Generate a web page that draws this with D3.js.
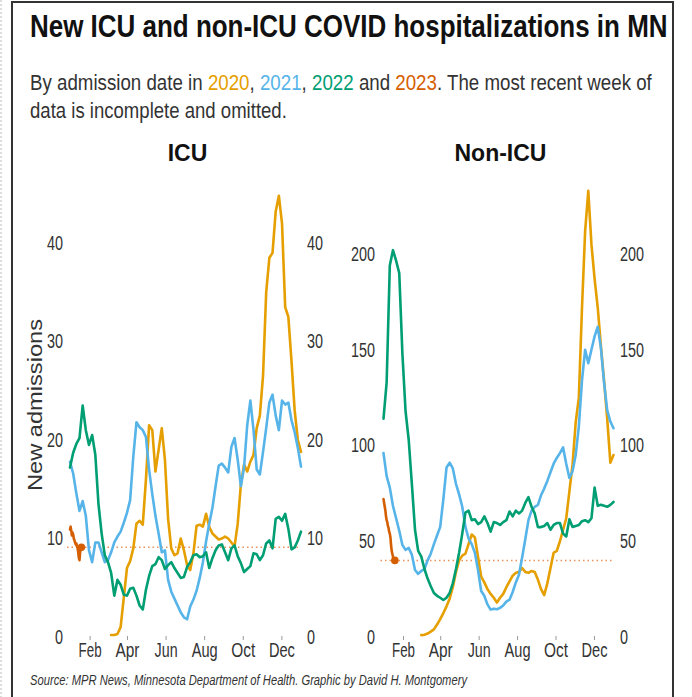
<!DOCTYPE html>
<html>
<head>
<meta charset="utf-8">
<script src="https://cdn.jsdelivr.net/npm/d3@7"></script>
<style>
  body { margin: 0; background: #fff; }
  text { font-family: "Liberation Sans Narrow", "Liberation Sans", Arial, sans-serif; }
</style>
</head>
<body>
<div id="chart"></div>
<script>
// series are sampled every 5 days from Jan 1 (2023 is daily)
var step = 5;
var years = ["2020", "2021", "2022", "2023"];
var yearColors = ["#E69F00", "#56B4E9", "#009E73", "#D55E00"];

var monthDays = [31, 90, 151, 212, 273, 334];
var monthLabels = ["Feb", "Apr", "Jun", "Aug", "Oct", "Dec"];
var monthWidths = [23, 24, 23, 26, 24, 26];

var icuTicks = [0, 10, 20, 30, 40];
var nonIcuTicks = [0, 50, 100, 150, 200];

// ICU new admissions
var icu2020Start = 65;
var icu2020 = [0.2, 0.2, 0.3, 1.0, 4.0, 7.0, 7.7, 9.0, 11.5, 11.8, 11.4, 16.0, 21.5, 21.0, 16.8, 19.0,
  21.2, 18.0, 12.0, 9.0, 8.3, 8.5, 10.0, 8.8, 7.3, 6.8, 8.5, 11.3, 11.4, 11.2, 12.5, 11.2, 10.5, 10.2,
  9.9, 10.0, 10.2, 10.0, 9.6, 9.2, 11.5, 15.5, 17.5, 16.8, 17.8, 18.5, 21.2, 22.5, 26.5, 35.0, 38.5,
  39.0, 43.2, 44.8, 42.0, 33.5, 32.5, 28.0, 23.0, 20.0, 18.8];
var icu2021 = [17.8, 16.6, 14.6, 12.8, 13.8, 12.3, 8.8, 7.6, 9.6, 9.6, 8.6, 7.6, 7.8, 8.6, 9.6, 10.2,
  10.7, 11.6, 12.6, 13.9, 18.3, 21.8, 21.3, 21.0, 20.3, 17.0, 14.5, 12.3, 10.5, 8.6, 8.8, 5.8, 4.6, 3.9,
  3.2, 2.5, 2.0, 1.8, 3.1, 3.8, 4.7, 6.0, 7.6, 9.7, 11.5, 13.1, 15.3, 17.4, 17.6, 17.2, 16.7, 19.3,
  20.2, 18.0, 15.3, 17.2, 21.5, 24.0, 21.0, 17.0, 16.5, 18.8, 21.2, 23.8, 24.6, 22.5, 21.0, 24.0, 23.6,
  23.8, 22.0, 20.8, 19.2, 17.3];
var icu2022 = [17.2, 18.7, 19.6, 20.2, 23.5, 21.0, 19.5, 20.5, 18.5, 13.5, 10.5, 8.3, 7.6, 6.5, 4.2,
  5.8, 5.3, 4.3, 4.2, 4.9, 5.0, 4.2, 3.2, 2.8, 4.8, 6.2, 7.2, 7.4, 8.1, 7.8, 6.9, 7.3, 7.6, 7.0, 6.5,
  6.0, 6.1, 7.1, 7.6, 8.3, 8.4, 8.1, 8.2, 8.6, 7.0, 8.0, 8.8, 9.3, 9.4, 8.6, 7.8, 9.0, 9.3, 8.2, 7.5,
  6.6, 6.9, 7.2, 8.5, 8.4, 7.8, 8.3, 9.5, 9.8, 9.0, 12.0, 12.2, 11.8, 12.5, 11.0, 8.9, 9.1, 9.8, 10.7];
var icu2023 = [10.9, 11.2, 10.8, 10.3, 10.6, 10.4, 10.0, 9.8, 9.6, 9.4, 9.5, 9.2, 9.0, 8.6, 8.0, 7.8,
  8.6, 9.3, 9.1];

// Non-ICU new admissions
var nonIcu2020Start = 60;
var nonIcu2020 = [1, 1.2, 1.8, 2.8, 4, 6.5, 9.3, 12.5, 16, 20, 26, 34, 40, 42.5, 43.5, 48.5, 53.5, 52,
  41.8, 31.5, 28.5, 25, 22.5, 20.5, 18, 20.5, 22.5, 26, 29, 32, 33.5, 34, 36, 34, 33.5, 34.5, 34, 30,
  25, 21.9, 28, 36, 44, 45, 50, 56, 62, 76, 90, 112, 125, 172, 212, 233, 205, 187, 172, 152, 134, 114,
  91, 95];
var nonIcu2021 = [96, 84, 78, 68.5, 62, 55.5, 48, 45.5, 46.5, 43, 35, 33, 34.5, 35.5, 40, 43.5, 48.5, 53,
  57.5, 72, 88.5, 91, 88, 80, 74.5, 68, 57.5, 51.5, 48.5, 44, 35, 24, 21.5, 17, 14.3, 14.8, 14.5, 15.2,
  16.5, 18.5, 19.5, 23.5, 28.5, 32.5, 41.5, 51, 61, 66, 68, 69, 74, 77.5, 81.5, 86, 90.5, 93.5, 96, 99,
  90.5, 83, 86.5, 95, 110, 134, 150, 143, 150, 157, 162, 151, 133, 118.5, 112.5, 109];
var nonIcu2022 = [114, 133, 194, 202, 196.5, 190, 148, 118, 103, 80, 56, 45, 42, 35.5, 30.5, 26.5, 23,
  21.5, 20.5, 19.3, 20.5, 23, 28, 35.5, 44, 54, 65, 66, 61, 61.5, 59, 60, 63, 59.5, 55, 60, 59.5, 58.5,
  60, 61, 65.5, 63, 66, 64.5, 66, 70, 73, 68, 64.5, 57.4, 57.4, 58, 59.5, 56, 58.5, 59.5, 59.5, 54,
  52.5, 61.5, 57.5, 58, 58.5, 60.5, 61, 60, 62, 78, 68.5, 69, 68.5, 68, 69, 70.5];
var nonIcu2023 = [72, 70, 68, 66, 63, 61, 60, 58, 57, 55, 54, 52, 48, 45, 43.5, 42, 41, 40.3, 40];

// subtitle pieces, coloured by year where given
var subtitleParts = [
  ["By admission date in ", null], ["2020", 0], [", ", null], ["2021", 1], [", ", null],
  ["2022", 2], [" and ", null], ["2023", 3], [". The most recent week of", null]
];

function series(values, start, stride) {
  return values.map(function(v, i) { return {day: start + i * stride, value: v}; });
}

var panels = [
  {title: "ICU", x0: 70, x1: 301, yMax: 40, yTop: 243, ticks: icuTicks, leftLab: 63, rightLab: 307,
   lines: [series(icu2020, icu2020Start, step), series(icu2021, 0, step),
           series(icu2022, 0, step), series(icu2023, 0, 1)]},
  {title: "Non-ICU", x0: 383.5, x1: 613.5, yMax: 200, yTop: 254, ticks: nonIcuTicks, leftLab: 375, rightLab: 620,
   lines: [series(nonIcu2020, nonIcu2020Start, step), series(nonIcu2021, 0, step),
           series(nonIcu2022, 0, step), series(nonIcu2023, 0, 1)]}
];

var width = 692, height = 697, baseY = 637;
var labelFont = "'Liberation Sans Narrow', 'Liberation Sans', Arial, sans-serif";

var svg = d3.select("#chart").append("svg")
    .attr("width", width)
    .attr("height", height);

svg.append("rect").attr("width", width).attr("height", height).attr("fill", "#fff");

// frame of the screenshot
svg.append("line")
    .attr("x1", 1).attr("x2", 1).attr("y1", 0).attr("y2", height)
    .style("stroke", "#bbb").style("stroke-dasharray", "2,2");
svg.append("rect")
    .attr("x", 12).attr("y", 2).attr("width", 661).attr("height", height + 10)
    .attr("fill", "none").style("stroke", "#333").style("stroke-width", 2);

// title: condensed by a horizontal scale so it fits 638px
var titleG = svg.append("g");
var title = titleG.append("text")
    .style("font-size", "32px").style("font-weight", "bold").style("fill", "#111")
    .text("New ICU and non-ICU COVID hospitalizations in MN");
var tw = title.node().getComputedTextLength();
titleG.attr("transform", "translate(30,37) scale(" + Math.min(1, 638 / tw) + ",1)");

// subtitle line 1, one text per piece
var subG = svg.append("g");
var cx = 0;
subtitleParts.forEach(function(part) {
  var t = subG.append("text")
      .attr("x", cx).attr("y", 0)
      .style("font-size", "22px")
      .style("fill", part[1] === null ? "#333" : yearColors[part[1]])
      .style("white-space", "pre")
      .attr("xml:space", "preserve")
      .text(part[0]);
  cx += t.node().getComputedTextLength();
});
subG.attr("transform", "translate(30,90) scale(" + Math.min(1, 622 / cx) + ",1)");

var sub2G = svg.append("g");
var sub2 = sub2G.append("text")
    .style("font-size", "22px").style("fill", "#333")
    .text("data is incomplete and omitted.");
sub2G.attr("transform", "translate(30,118) scale(" + Math.min(1, 257 / sub2.node().getComputedTextLength()) + ",1)");

panels.forEach(function(p) {
  var x = d3.scaleLinear().domain([0, 365]).range([p.x0, p.x1]);
  var y = d3.scaleLinear().domain([0, p.yMax]).range([baseY, p.yTop]);

  var g = svg.append("g");

  g.append("text")
      .attr("x", (p.x0 + p.x1) / 2 + 2).attr("y", 161)
      .attr("text-anchor", "middle")
      .style("font-size", "23px").style("font-weight", "bold").style("fill", "#111")
      .text(p.title);

  // month axis
  var xAxis = d3.axisBottom(x)
      .tickValues(monthDays)
      .tickFormat(function(d, i) { return monthLabels[i]; })
      .tickSize(4)
      .tickPadding(3);
  var xg = g.append("g").attr("transform", "translate(0," + (baseY - 1) + ")").call(xAxis);
  xg.select(".domain").remove();
  xg.selectAll(".tick line").style("stroke", "#999");
  xg.selectAll("text")
      .style("font-size", "20px").style("fill", "#333").style("font-family", labelFont)
      .attr("textLength", function(d, i) { return monthWidths[i]; })
      .attr("lengthAdjust", "spacingAndGlyphs");

  // value axes on both sides
  var yl = g.append("g").attr("transform", "translate(" + p.leftLab + ",0)")
      .call(d3.axisLeft(y).tickValues(p.ticks).tickSize(0).tickPadding(0));
  var yr = g.append("g").attr("transform", "translate(" + p.rightLab + ",0)")
      .call(d3.axisRight(y).tickValues(p.ticks).tickSize(0).tickPadding(0));
  [yl, yr].forEach(function(a) {
    a.select(".domain").remove();
    a.selectAll("text")
        .style("font-size", "20px").style("fill", "#333").style("font-family", labelFont)
        .attr("textLength", function(d) { return String(d).length * 8; })
        .attr("lengthAdjust", "spacingAndGlyphs");
  });

  // reference line at the latest 2023 value
  var latest = p.lines[3][p.lines[3].length - 1];
  g.append("line")
      .attr("x1", x(0) - 3).attr("x2", x(365))
      .attr("y1", y(latest.value)).attr("y2", y(latest.value))
      .style("stroke", "#E8925A").style("stroke-width", 1.5)
      .style("stroke-dasharray", "1.5,3");

  var line = d3.line()
      .x(function(d) { return x(d.day); })
      .y(function(d) { return y(d.value); });

  p.lines.forEach(function(data, i) {
    g.append("path")
        .datum(data)
        .attr("d", line)
        .style("fill", "none")
        .style("stroke", yearColors[i])
        .style("stroke-width", 2.6)
        .style("stroke-linejoin", "round")
        .style("stroke-linecap", "round");
  });

  g.append("circle")
      .attr("cx", x(latest.day)).attr("cy", y(latest.value))
      .attr("r", 3.8)
      .style("fill", yearColors[3]);
});

// y label on the left panel
svg.append("text")
    .attr("transform", "translate(42,405) rotate(-90)")
    .attr("text-anchor", "middle")
    .attr("textLength", 172).attr("lengthAdjust", "spacingAndGlyphs")
    .style("font-size", "20px").style("fill", "#333")
    .text("New admissions");

svg.append("text")
    .attr("x", 30).attr("y", 685)
    .attr("textLength", 437).attr("lengthAdjust", "spacingAndGlyphs")
    .style("font-size", "14px").style("font-style", "italic").style("fill", "#333")
    .text("Source: MPR News, Minnesota Department of Health. Graphic by David H. Montgomery");
</script>
</body>
</html>
